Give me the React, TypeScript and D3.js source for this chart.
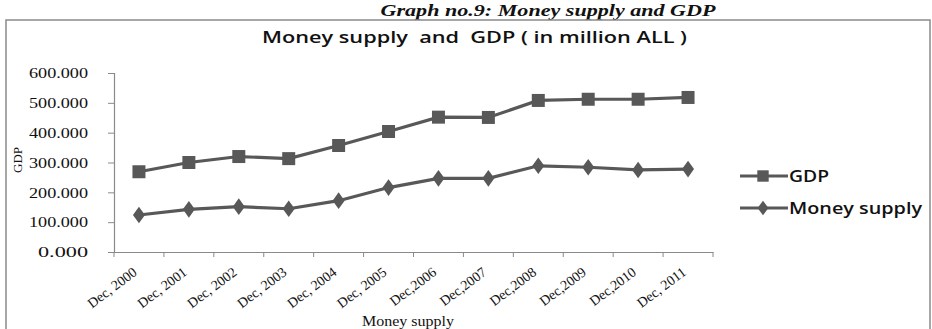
import React, { useEffect, useRef } from "react";
import * as d3 from "d3";

const categories = ["Dec, 2000", "Dec, 2001", "Dec, 2002", "Dec, 2003", "Dec, 2004", "Dec, 2005", "Dec,2006", "Dec,2007", "Dec,2008", "Dec,2009", "Dec,2010", "Dec, 2011"];
const gdp = [269, 300, 320, 313, 357, 404, 452, 451, 508, 512, 512, 518];
const moneySupply = [124, 143, 152, 145, 172, 216, 247, 247, 289, 284, 275, 278];
const yTicks = [0, 100, 200, 300, 400, 500, 600];
const seriesNames = ["GDP", "Money supply"];

const W = 932, H = 329;
const COLOR = "#585858";

export default function App() {
  const ref = useRef<SVGSVGElement>(null);
  useEffect(() => {
    const svg = d3.select(ref.current);
    svg.selectAll("*").remove();

    // outer heading
    svg.append("text").attr("x", 548).attr("y", 16).attr("text-anchor", "middle")
      .attr("font-family", "Liberation Serif").attr("font-style", "italic").attr("font-weight", "bold")
      .attr("font-size", 17.5).attr("textLength", 335).attr("lengthAdjust", "spacingAndGlyphs")
      .attr("fill", "#111").text("Graph no.9: Money supply  and  GDP");

    // frame
    svg.append("rect").attr("x", 6).attr("y", 20).attr("width", 924).attr("height", 330)
      .attr("fill", "#fff").attr("stroke", "#8a8a8a").attr("stroke-width", 1.5);

    // title
    svg.append("text").attr("x", 262).attr("y", 43)
      .attr("font-family", "Open Sans").attr("font-weight", 600).attr("font-size", 16.5).attr("fill", "#111")
      .attr("textLength", 425).attr("lengthAdjust", "spacingAndGlyphs").style("white-space", "pre")
      .text("Money supply  and  GDP ( in million ALL )");

    const x = d3.scaleBand().domain(categories).range([114, 713]);
    const y = d3.scaleLinear().domain([0, 600]).range([252, 73]);

    // y axis
    const ya = svg.append("g").attr("transform", "translate(114,0)")
      .call(d3.axisLeft(y).tickValues(yTicks).tickSize(6).tickPadding(20).tickFormat((d) => d3.format(".3f")(d as number)));
    ya.select(".domain").attr("stroke", "#8a8a8a").attr("stroke-width", 1.2);
    ya.selectAll(".tick line").attr("stroke", "#8a8a8a");
    ya.selectAll<SVGTextElement, number>(".tick text").attr("font-family", "Liberation Serif").attr("font-size", 15)
      .attr("textLength", (d) => (d === 0 ? 50 : 59)).attr("lengthAdjust", "spacingAndGlyphs").attr("fill", "#111");

    // x axis
    const xa = svg.append("g").attr("transform", "translate(0,252)")
      .call(d3.axisBottom(x).tickSize(0).tickFormat(() => ""));
    xa.select(".domain").attr("stroke", "#8a8a8a").attr("stroke-width", 1.2);
    const bounds = categories.map((c) => x(c) as number).concat([713]);
    xa.selectAll("line.tk").data(bounds).enter().append("line").attr("class", "tk")
      .attr("x1", (d) => d).attr("x2", (d) => d).attr("y1", 0).attr("y2", 5).attr("stroke", "#8a8a8a");
    svg.append("g").selectAll("text").data(categories).enter().append("text")
      .attr("transform", (d) => `translate(${(x(d) as number) + x.bandwidth() / 2 - 1},${274}) rotate(-37)`)
      .attr("text-anchor", "end").attr("font-family", "Liberation Serif").attr("font-size", 14)
      .attr("fill", "#111").text((d) => d);

    // axis titles
    svg.append("text").attr("transform", "translate(22,160) rotate(-90)").attr("text-anchor", "middle")
      .attr("font-family", "Liberation Serif").attr("font-size", 13).attr("fill", "#111").text("GDP");
    svg.append("text").attr("x", 362).attr("y", 326).attr("font-family", "Liberation Serif")
      .attr("font-size", 14.5).attr("textLength", 92).attr("lengthAdjust", "spacingAndGlyphs")
      .attr("fill", "#111").text("Money supply");

    const cx = (c: string) => (x(c) as number) + x.bandwidth() / 2;
    const line = d3.line<number>().x((_, i) => cx(categories[i])).y((d) => y(d));
    const series = [gdp, moneySupply];
    const sq = d3.symbol().type(d3.symbolSquare).size(169);
    const dm = d3.symbol().type(d3.symbolDiamond).size(80);
    series.forEach((s, si) => {
      svg.append("path").datum(s).attr("d", line).attr("fill", "none").attr("stroke", COLOR).attr("stroke-width", 3.2);
      svg.append("g").selectAll("path").data(s).enter().append("path")
        .attr("d", si === 0 ? sq() : dm())
        .attr("transform", (d, i) => `translate(${cx(categories[i])},${y(d)})${si === 1 ? " scale(1.25,1)" : ""}`)
        .attr("fill", COLOR);
    });

    // legend
    const ly = [176, 208];
    const lw = [40, 133];
    seriesNames.forEach((n, i) => {
      const g = svg.append("g").attr("transform", `translate(0,${ly[i]})`);
      g.append("line").attr("x1", 740).attr("x2", 788).attr("y1", 0).attr("y2", 0).attr("stroke", COLOR).attr("stroke-width", 3.2);
      g.append("path").attr("d", i === 0 ? d3.symbol().type(d3.symbolSquare).size(130)() : d3.symbol().type(d3.symbolDiamond).size(60)())
        .attr("transform", `translate(763,0)${i === 1 ? " scale(1.3,1)" : ""}`).attr("fill", COLOR);
      g.append("text").attr("x", 789).attr("y", 6).attr("font-family", "Open Sans").attr("font-weight", 600)
        .attr("font-size", 17).attr("textLength", lw[i]).attr("lengthAdjust", "spacingAndGlyphs")
        .attr("fill", "#111").text(n);
    });
  }, []);
  return (
    <svg ref={ref} width={W} height={H} style={{ position: "absolute", left: 0, top: 0, background: "#fff" }} />
  );
}
